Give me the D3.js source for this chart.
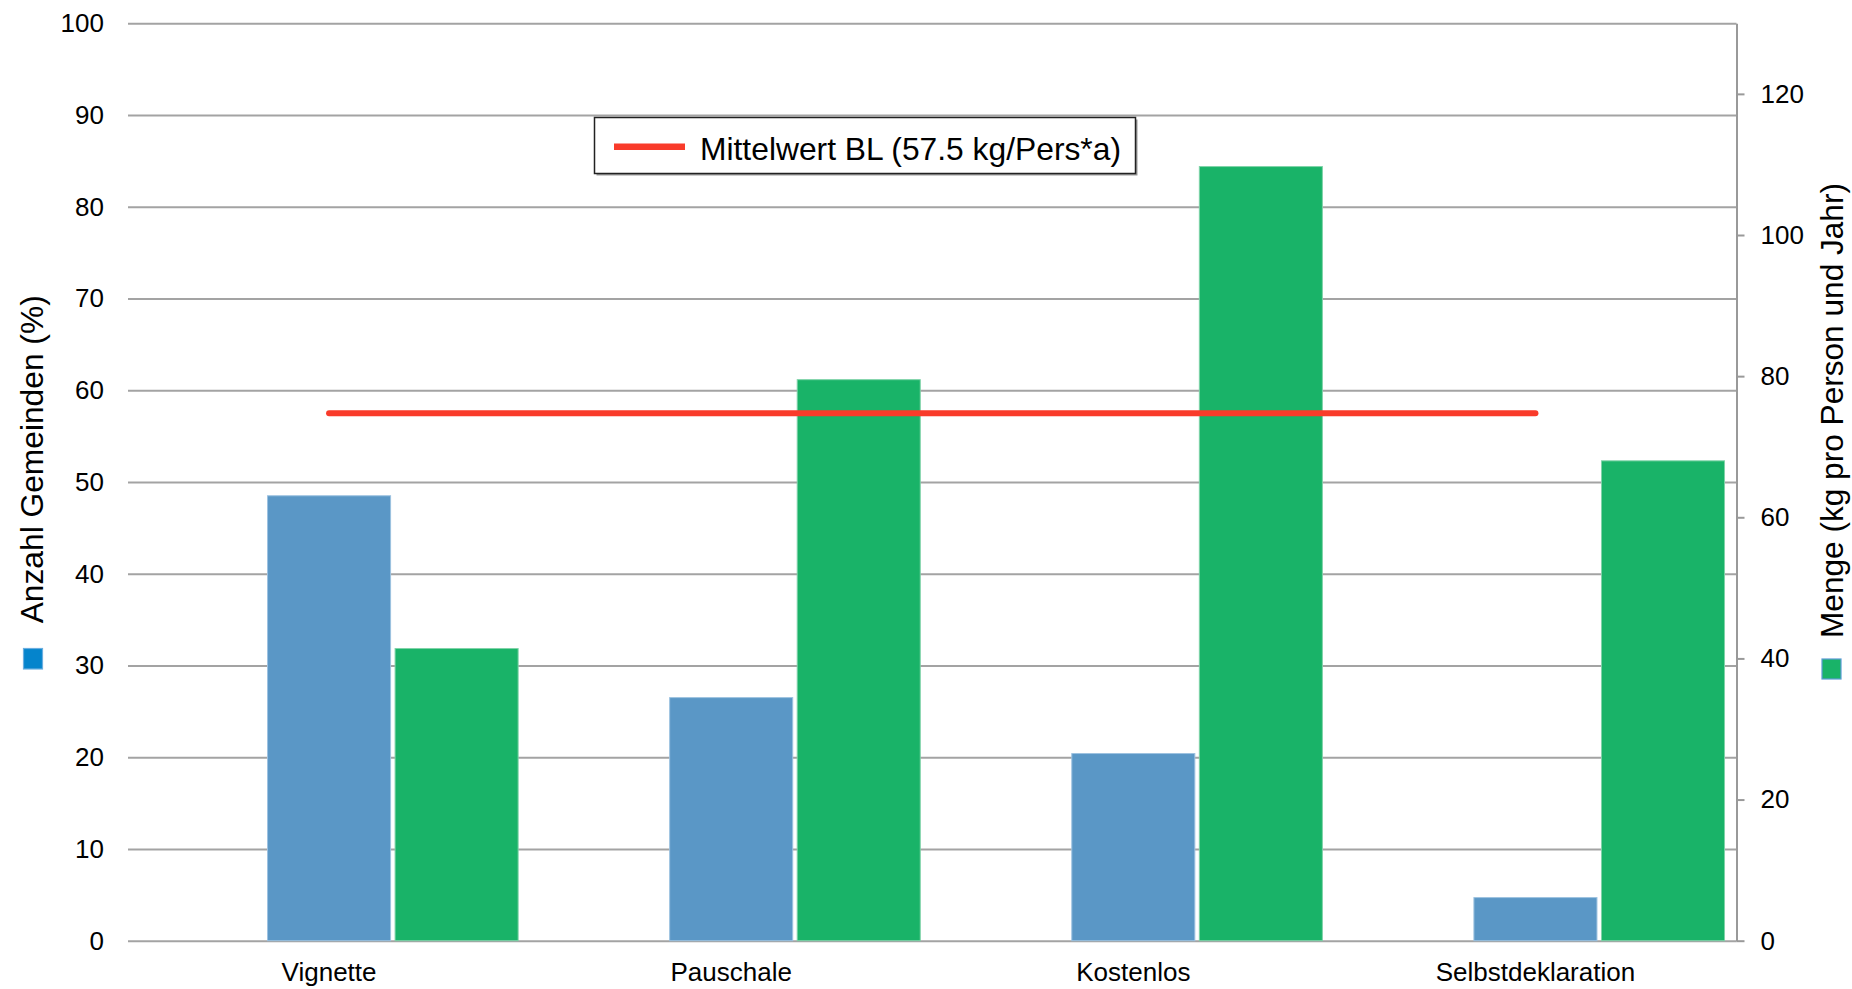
<!DOCTYPE html>
<html>
<head>
<meta charset="utf-8">
<script src="https://cdn.jsdelivr.net/npm/d3@7"></script>
<style>
  html, body { margin: 0; padding: 0; background: #fff; }
  svg { display: block; font-family: "Liberation Sans", Arial, Helvetica, sans-serif; }
</style>
</head>
<body>
<svg id="chart" width="1852" height="989"></svg>
<script>
// ---- data ----
const categories = ["Vignette", "Pauschale", "Kostenlos", "Selbstdeklaration"];
const anteilGemeinden = [48.5, 26.5, 20.4, 4.7];      // left axis, %
const mengeKg = [41.4, 79.5, 109.7, 68.0];            // right axis, kg/Person*Jahr
const mittelwertBL = 57.5;                             // drawn on the left axis
const leftTicks = [0, 10, 20, 30, 40, 50, 60, 70, 80, 90, 100];
const rightTicks = [0, 20, 40, 60, 80, 100, 120];
const leftTitle = "Anzahl Gemeinden (%)";
const rightTitle = "Menge (kg pro Person und Jahr)";
const legendLabel = "Mittelwert BL (57.5 kg/Pers*a)";

// ---- layout ----
const svg = d3.select("#chart");
const x0 = 128, x1 = 1736.5, yTop = 23.3, yBot = 940.7;
const blue = "#5a97c6", green = "#19b368", red = "#f93b2a", grid = "#a3a3a3";

const x = d3.scaleBand().domain(categories).range([x0, x1]).paddingInner(0).paddingOuter(0);
const yL = d3.scaleLinear().domain([0, 100]).range([yBot, yTop]);
const yR = d3.scaleLinear().domain([0, 130]).range([yBot, yTop]);
const barW = x.bandwidth() * 0.306;
const gap = 4.5;

// left axis with gridlines
const gL = svg.append("g").attr("transform", `translate(${x0},0)`)
  .call(d3.axisLeft(yL).tickValues(leftTicks).tickSizeInner(-(x1 - x0)).tickSizeOuter(0).tickPadding(24).tickFormat(d3.format("d")));
gL.select(".domain").remove();
gL.selectAll(".tick line").attr("stroke", grid).attr("stroke-width", 2);
gL.selectAll(".tick text").attr("font-size", 26).attr("fill", "#000")
  .attr("font-family", "'Liberation Sans', Arial, sans-serif");

// bars – left series (blue)
svg.append("g").selectAll("rect").data(anteilGemeinden).join("rect")
  .attr("x", (d, i) => x(categories[i]) + x.bandwidth() / 2 - barW / 2)
  .attr("y", d => yL(d))
  .attr("width", barW)
  .attr("height", d => yL(0) - yL(d))
  .attr("fill", blue)
  .attr("stroke", "#9cc2e0").attr("stroke-width", 1);

// bars – right series (green)
svg.append("g").selectAll("rect").data(mengeKg).join("rect")
  .attr("x", (d, i) => x(categories[i]) + x.bandwidth() / 2 + barW / 2 + gap)
  .attr("y", d => yR(d))
  .attr("width", barW)
  .attr("height", d => yR(0) - yR(d))
  .attr("fill", green)
  .attr("stroke", "#7fd3a8").attr("stroke-width", 1);

// mean line
const lineData = [categories[0], categories[categories.length - 1]];
svg.append("path")
  .datum(lineData)
  .attr("d", d3.line().x(c => x(c) + x.bandwidth() / 2).y(() => yL(mittelwertBL)))
  .attr("fill", "none").attr("stroke", red).attr("stroke-width", 6).attr("stroke-linecap", "round");

// right axis
const gR = svg.append("g").attr("transform", `translate(${x1},0)`)
  .call(d3.axisRight(yR).tickValues(rightTicks).tickSizeInner(8).tickSizeOuter(0).tickPadding(16).tickFormat(d3.format("d")));
gR.select(".domain").attr("stroke", "#999").attr("stroke-width", 2);
gR.selectAll(".tick line").attr("stroke", "#999").attr("stroke-width", 2);
gR.selectAll(".tick text").attr("font-size", 26).attr("fill", "#000")
  .attr("font-family", "'Liberation Sans', Arial, sans-serif");

// category labels
svg.append("g").selectAll("text").data(categories).join("text")
  .attr("x", c => x(c) + x.bandwidth() / 2)
  .attr("y", 981)
  .attr("text-anchor", "middle")
  .attr("font-size", 26)
  .attr("fill", "#000")
  .text(c => c);

// left axis title + legend swatch
svg.append("rect").attr("x", 23.5).attr("y", 648.5).attr("width", 19).attr("height", 20.5)
  .attr("fill", "#0584cc").attr("stroke", "#6aaee0").attr("stroke-width", 1.2);
svg.append("text")
  .attr("transform", "translate(42.7,623.3) rotate(-90)")
  .attr("font-size", 32)
  .attr("textLength", 328).attr("lengthAdjust", "spacingAndGlyphs")
  .attr("fill", "#000")
  .text(leftTitle);

// right axis title + legend swatch
svg.append("rect").attr("x", 1822).attr("y", 659).attr("width", 19).attr("height", 20)
  .attr("fill", green).attr("stroke", "#5b9bd5").attr("stroke-width", 1.2);
svg.append("text")
  .attr("transform", "translate(1843,638) rotate(-90)")
  .attr("font-size", 32)
  .attr("textLength", 455).attr("lengthAdjust", "spacingAndGlyphs")
  .attr("fill", "#000")
  .text(rightTitle);

// legend box
const lg = svg.append("g");
lg.append("rect").attr("x", 596.5).attr("y", 119.5).attr("width", 541).attr("height", 56).attr("fill", "#9a9a9a");
lg.append("rect").attr("x", 594.5).attr("y", 117.5).attr("width", 541).attr("height", 56)
  .attr("fill", "#fff").attr("stroke", "#222").attr("stroke-width", 1.5);
lg.append("line").attr("x1", 614).attr("x2", 685).attr("y1", 146.7).attr("y2", 146.7)
  .attr("stroke", red).attr("stroke-width", 6.5);
lg.append("text").attr("x", 700).attr("y", 160)
  .attr("font-size", 32)
  .attr("textLength", 421).attr("lengthAdjust", "spacingAndGlyphs")
  .attr("fill", "#000")
  .text(legendLabel);
</script>
</body>
</html>
